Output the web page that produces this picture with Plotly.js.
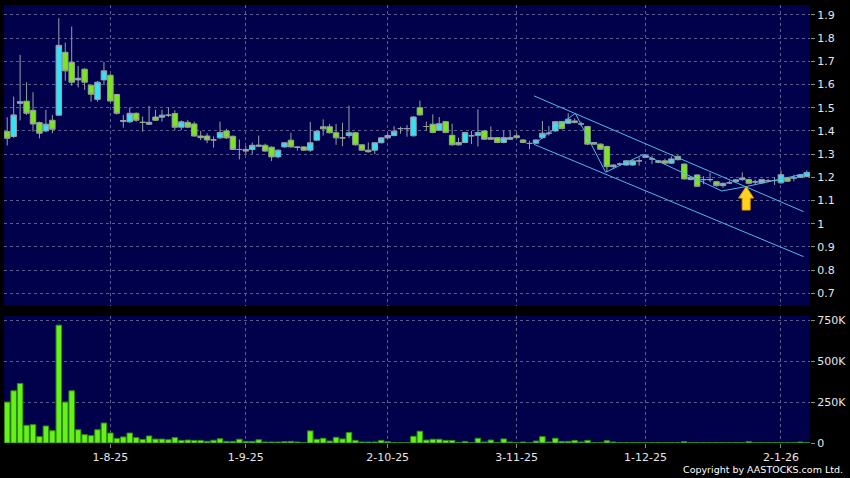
<!DOCTYPE html>
<html><head><meta charset="utf-8">
<script src="https://cdn.plot.ly/plotly-3.0.1.min.js"></script>
<style>html,body{margin:0;padding:0;background:#000;}#chart{width:850px;height:478px;}</style>
</head><body><div id="chart"></div>
<script>
const dates = [
"2025-07-10","2025-07-11","2025-07-14","2025-07-15","2025-07-16","2025-07-17","2025-07-18","2025-07-21","2025-07-22","2025-07-23","2025-07-24","2025-07-25","2025-07-28","2025-07-29","2025-07-30","2025-07-31",
"2025-08-01","2025-08-04","2025-08-05","2025-08-06","2025-08-07","2025-08-08","2025-08-11","2025-08-12","2025-08-13","2025-08-14","2025-08-15","2025-08-18","2025-08-19","2025-08-20","2025-08-21","2025-08-22","2025-08-25","2025-08-26","2025-08-27","2025-08-28","2025-08-29",
"2025-09-01","2025-09-02","2025-09-03","2025-09-04","2025-09-05","2025-09-08","2025-09-09","2025-09-10","2025-09-11","2025-09-12","2025-09-15","2025-09-16","2025-09-17","2025-09-18","2025-09-19","2025-09-22","2025-09-23","2025-09-24","2025-09-25","2025-09-26","2025-09-29","2025-09-30",
"2025-10-02","2025-10-03","2025-10-06","2025-10-08","2025-10-09","2025-10-10","2025-10-13","2025-10-14","2025-10-15","2025-10-16","2025-10-17","2025-10-20","2025-10-21","2025-10-22","2025-10-23","2025-10-24","2025-10-27","2025-10-28","2025-10-30","2025-10-31",
"2025-11-03","2025-11-04","2025-11-05","2025-11-06","2025-11-07","2025-11-10","2025-11-11","2025-11-12","2025-11-13","2025-11-14","2025-11-17","2025-11-18","2025-11-19","2025-11-20","2025-11-21","2025-11-24","2025-11-25","2025-11-26","2025-11-27","2025-11-28",
"2025-12-01","2025-12-02","2025-12-03","2025-12-04","2025-12-05","2025-12-08","2025-12-09","2025-12-10","2025-12-11","2025-12-12","2025-12-15","2025-12-16","2025-12-17","2025-12-18","2025-12-19","2025-12-22","2025-12-23","2025-12-24","2025-12-29","2025-12-30","2025-12-31",
"2026-01-02","2026-01-05","2026-01-06","2026-01-07","2026-01-08"];

const open = [1.397,1.376,1.519,1.528,1.489,1.436,1.400,1.446,1.468,1.739,1.696,1.620,1.666,1.597,1.536,1.620,1.640,1.557,1.441,1.439,
1.476,1.437,1.429,1.460,1.459,1.468,1.475,1.416,1.437,1.430,1.378,1.378,1.361,1.370,1.400,1.377,1.320,1.320,1.320,1.334,
1.338,1.330,1.288,1.331,1.360,1.331,1.331,1.317,1.360,1.418,1.418,1.392,1.370,1.380,1.392,1.340,1.317,1.317,1.349,1.370,
1.380,1.410,1.410,1.379,1.500,1.419,1.429,1.403,1.440,1.381,1.340,1.350,1.379,1.381,1.400,1.371,1.371,1.350,1.364,1.379,
1.361,1.346,1.347,1.371,1.390,1.400,1.440,1.433,1.443,1.430,1.419,1.350,1.343,1.333,1.246,1.257,1.253,1.253,1.271,1.286,
1.279,1.271,1.271,1.261,1.290,1.257,1.190,1.210,1.190,1.190,1.181,1.164,1.176,1.181,1.190,1.190,1.180,1.176,1.185,1.186,
1.176,1.197,1.197,1.200,1.203];
const high = [1.459,1.548,1.728,1.610,1.567,1.440,1.491,1.469,1.886,1.781,1.850,1.680,1.670,1.600,1.615,1.697,1.645,1.560,1.469,1.501,
1.480,1.462,1.508,1.491,1.491,1.501,1.489,1.445,1.447,1.440,1.400,1.390,1.376,1.440,1.409,1.380,1.363,1.335,1.350,1.380,
1.345,1.333,1.320,1.352,1.392,1.335,1.334,1.439,1.402,1.450,1.430,1.430,1.435,1.509,1.395,1.343,1.350,1.352,1.373,1.390,
1.420,1.418,1.425,1.463,1.531,1.440,1.471,1.460,1.443,1.431,1.371,1.396,1.400,1.493,1.403,1.419,1.374,1.400,1.400,1.390,
1.364,1.357,1.364,1.443,1.421,1.443,1.443,1.476,1.454,1.440,1.422,1.353,1.346,1.336,1.256,1.264,1.274,1.274,1.286,1.300,
1.293,1.274,1.280,1.290,1.295,1.260,1.203,1.213,1.205,1.220,1.184,1.177,1.186,1.192,1.221,1.193,1.190,1.193,1.193,1.200,
1.230,1.200,1.211,1.214,1.230];
const low = [1.337,1.370,1.445,1.469,1.397,1.368,1.395,1.390,1.465,1.616,1.595,1.588,1.577,1.526,1.526,1.597,1.525,1.470,1.414,1.435,
1.440,1.397,1.425,1.443,1.440,1.460,1.404,1.404,1.412,1.375,1.360,1.347,1.328,1.365,1.365,1.318,1.277,1.300,1.300,1.330,
1.310,1.270,1.282,1.328,1.328,1.315,1.314,1.310,1.357,1.380,1.389,1.340,1.334,1.370,1.337,1.314,1.307,1.300,1.346,1.367,
1.377,1.388,1.375,1.376,1.466,1.400,1.390,1.400,1.390,1.337,1.337,1.347,1.343,1.333,1.361,1.361,1.347,1.347,1.361,1.368,
1.347,1.321,1.344,1.368,1.380,1.397,1.407,1.430,1.433,1.420,1.340,1.340,1.318,1.222,1.235,1.250,1.250,1.250,1.250,1.283,
1.257,1.261,1.255,1.258,1.273,1.190,1.187,1.158,1.170,1.180,1.160,1.155,1.172,1.178,1.185,1.170,1.167,1.173,1.178,1.167,
1.173,1.180,1.183,1.197,1.200];
const close = [1.368,1.469,1.526,1.476,1.430,1.390,1.429,1.407,1.769,1.659,1.610,1.627,1.610,1.558,1.610,1.659,1.529,1.476,1.445,1.476,
1.446,1.437,1.437,1.446,1.468,1.468,1.416,1.439,1.416,1.378,1.371,1.361,1.361,1.393,1.370,1.320,1.320,1.313,1.338,1.338,
1.313,1.288,1.317,1.349,1.331,1.329,1.317,1.349,1.399,1.409,1.392,1.370,1.370,1.392,1.340,1.317,1.310,1.349,1.370,1.380,
1.399,1.410,1.410,1.460,1.469,1.419,1.393,1.431,1.393,1.340,1.350,1.393,1.379,1.393,1.364,1.364,1.350,1.371,1.371,1.371,
1.350,1.346,1.361,1.390,1.390,1.440,1.410,1.450,1.436,1.430,1.343,1.343,1.321,1.246,1.253,1.257,1.271,1.271,1.271,1.293,
1.279,1.264,1.261,1.279,1.276,1.193,1.200,1.161,1.190,1.190,1.164,1.174,1.176,1.189,1.197,1.174,1.180,1.190,1.185,1.186,
1.211,1.183,1.197,1.211,1.221];
const volumeK = [250,319,364,108,112,39,104,75,720,250,319,81,51,45,81,122,61,28,37,61,
33,22,43,24,24,20,33,16,18,16,16,10,17,26,10,10,23,10,10,20,
6,6,6,8,10,6,3,74,23,29,12,35,25,64,16,6,6,6,16,8,
2,2,2,41,72,18,23,23,16,16,2,10,2,29,6,18,2,25,6,2,
6,2,12,39,6,29,10,10,16,6,16,2,2,14,6,3,2,3,2,3,
2,3,2,3,2,8,2,3,2,2,3,2,2,3,2,8,2,3,2,2,
3,2,2,6,3];

const xTickDates = ["2025-08-01","2025-09-01","2025-10-02","2025-11-03","2025-12-01","2026-01-02"];
const xTickLabels = ["1-8-25","1-9-25","2-10-25","3-11-25","1-12-25","2-1-26"];
const priceTickVals = [0.7,0.8,0.9,1.0,1.1,1.2,1.3,1.4,1.5,1.6,1.7,1.8,1.9];
const priceTickText = ["0.7","0.8","0.9","1","1.1","1.2","1.3","1.4","1.5","1.6","1.7","1.8","1.9"];
const volTickVals = [0,250000,500000,750000];
const volTickText = ["0","250K","500K","750K"];

// drawn trend lines (x = bar index, y = price)
const upperChannelX = [81.7,123.5], upperChannelY = [1.551,1.052];
const lowerChannelX = [81.7,123.5], lowerChannelY = [1.342,0.858];
const zigzagX = [81.9,88.1,92.8,98.7,110.8,114.6,124.5];
const zigzagY = [1.347,1.476,1.222,1.299,1.141,1.160,1.220];
const arrowX = 114.6, arrowY = 1.160;

const lineColor = '#52b8ec';
const gridColor = '#5a5a8c';

const shapes = [];
shapes.push({type:'line', xref:'x', yref:'y', x0:upperChannelX[0], x1:upperChannelX[1], y0:upperChannelY[0], y1:upperChannelY[1], line:{color:lineColor,width:1}});
shapes.push({type:'line', xref:'x', yref:'y', x0:lowerChannelX[0], x1:lowerChannelX[1], y0:lowerChannelY[0], y1:lowerChannelY[1], line:{color:lineColor,width:1}});
for (let k=0;k<zigzagX.length-1;k++){
  shapes.push({type:'line', xref:'x', yref:'y', x0:zigzagX[k], x1:zigzagX[k+1], y0:zigzagY[k], y1:zigzagY[k+1], line:{color:lineColor,width:1}});
}
shapes.push({type:'path', xref:'x', yref:'y', xsizemode:'pixel', ysizemode:'pixel', xanchor:arrowX, yanchor:arrowY,
  path:'M0,0 L7.5,-11.5 L4,-11.5 L4,-23.5 L-4,-23.5 L-4,-11.5 L-7.5,-11.5 Z',
  fillcolor:'#ffd21f', line:{color:'#e39a00', width:1}});

const volume = volumeK.map(v => v*1000);

const traces = [
 {type:'candlestick', x:dates, open:open, high:high, low:low, close:close, xaxis:'x', yaxis:'y',
  increasing:{fillcolor:'#33e3f5', line:{color:'#95a3ad', width:1}},
  decreasing:{fillcolor:'#7be61e', line:{color:'#95a395', width:1}},
  whiskerwidth:0, hoverinfo:'none'},
 {type:'bar', x:dates, y:volume, xaxis:'x2', yaxis:'y2',
  marker:{color:'#66f01c', line:{color:'#2e8c0a', width:1}}, hoverinfo:'none'}
];

const axBase = {type:'category', range:[-0.5,124.5], tickvals:xTickDates, showgrid:true, gridcolor:gridColor, griddash:'3px,3px', gridwidth:1, zeroline:false, showline:false, fixedrange:true};

const layout = {
  width:850, height:478,
  paper_bgcolor:'#000', plot_bgcolor:'#00004b',
  margin:{l:4, r:40, t:5, b:35},
  showlegend:false,
  font:{family:'DejaVu Sans, sans-serif', size:11, color:'#e6e6e6'},
  boxgap:0.15, boxgroupgap:0,
  bargap:0.14,
  xaxis: Object.assign({}, axBase, {domain:[0,1], anchor:'y', showticklabels:false, ticks:'', rangeslider:{visible:false}}),
  yaxis: {domain:[0.3128,1], range:[0.645,1.943], side:'right', anchor:'x', tickvals:priceTickVals, ticktext:priceTickText,
          ticks:'outside', ticklen:4, tickcolor:'#8a8a8a', showgrid:true, gridcolor:gridColor, griddash:'3px,3px', zeroline:false, showline:false, fixedrange:true},
  xaxis2: Object.assign({}, axBase, {domain:[0,1], anchor:'y2', ticktext:xTickLabels, ticks:'outside', ticklen:4, tickcolor:'#8a8a8a'}),
  yaxis2: {domain:[0,0.29], range:[0,776000], side:'right', anchor:'x2', tickvals:volTickVals, ticktext:volTickText,
          ticks:'outside', ticklen:4, tickcolor:'#8a8a8a', showgrid:true, gridcolor:gridColor, griddash:'3px,3px', zeroline:false, showline:false, fixedrange:true},
  shapes: shapes,
  annotations:[{text:'Copyright by AASTOCKS.com Ltd.', xref:'paper', yref:'paper', x:1.0434, y:-0.0616, xanchor:'right', yanchor:'middle',
    showarrow:false, font:{size:9.5, color:'#ffffff', family:'DejaVu Sans, sans-serif'}}]
};

Plotly.newPlot('chart', traces, layout, {staticPlot:true, displayModeBar:false});
</script></body></html>
